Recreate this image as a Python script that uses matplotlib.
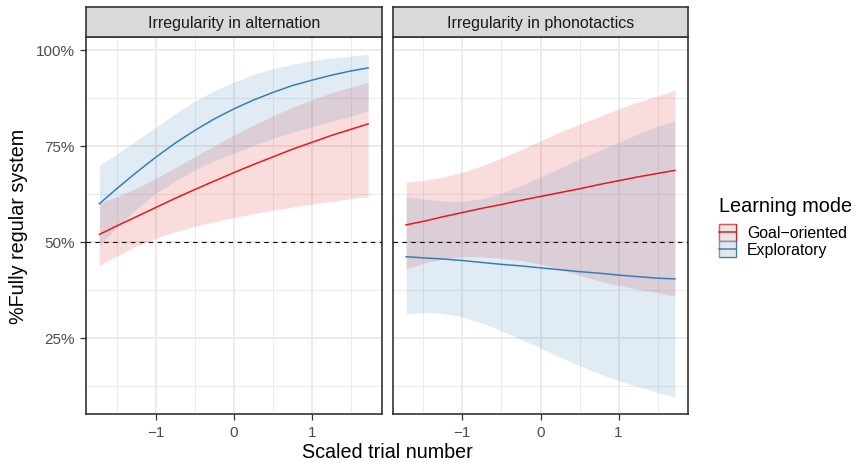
import numpy as np
import matplotlib.pyplot as plt
from matplotlib.patches import Rectangle
from matplotlib.ticker import FixedLocator, FuncFormatter

plt.rcParams['font.family'] = ['Liberation Sans', 'DejaVu Sans']

# values
trial = [-1.72, -1.5, -1.25, -1.0, -0.75, -0.5, -0.25, 0.0, 0.25, 0.5, 0.75, 1.0, 1.25, 1.5, 1.72]

# Irregularity in alternation
alt_goal = [0.519, 0.541, 0.565, 0.589, 0.613, 0.636, 0.658, 0.680, 0.701, 0.721, 0.741, 0.759, 0.777, 0.793, 0.807]
alt_goal_hi = [0.602, 0.617, 0.639, 0.665, 0.693, 0.722, 0.750, 0.778, 0.804, 0.828, 0.850, 0.870, 0.888, 0.903, 0.915]
alt_goal_lo = [0.438, 0.462, 0.488, 0.509, 0.526, 0.540, 0.552, 0.563, 0.573, 0.582, 0.590, 0.598, 0.605, 0.612, 0.618]
alt_expl = [0.599, 0.638, 0.680, 0.720, 0.757, 0.790, 0.820, 0.846, 0.869, 0.889, 0.907, 0.921, 0.934, 0.945, 0.953]
alt_expl_hi = [0.700, 0.728, 0.763, 0.798, 0.834, 0.866, 0.894, 0.916, 0.936, 0.951, 0.963, 0.972, 0.979, 0.984, 0.988]
alt_expl_lo = [0.489, 0.537, 0.585, 0.626, 0.659, 0.687, 0.711, 0.730, 0.751, 0.769, 0.785, 0.800, 0.814, 0.827, 0.842]

# Irregularity in phonotactics
pho_goal = [0.544, 0.553, 0.565, 0.576, 0.587, 0.597, 0.608, 0.618, 0.628, 0.638, 0.649, 0.659, 0.669, 0.678, 0.686]
pho_goal_hi = [0.655, 0.660, 0.668, 0.681, 0.698, 0.718, 0.740, 0.763, 0.786, 0.806, 0.826, 0.846, 0.864, 0.880, 0.895]
pho_goal_lo = [0.429, 0.444, 0.455, 0.461, 0.461, 0.457, 0.451, 0.442, 0.428, 0.412, 0.398, 0.386, 0.376, 0.367, 0.358]
pho_expl = [0.461, 0.458, 0.455, 0.451, 0.446, 0.441, 0.437, 0.432, 0.427, 0.422, 0.418, 0.413, 0.409, 0.405, 0.403]
pho_expl_hi = [0.618, 0.611, 0.606, 0.605, 0.612, 0.626, 0.646, 0.669, 0.692, 0.715, 0.738, 0.759, 0.781, 0.801, 0.815]
pho_expl_lo = [0.312, 0.316, 0.313, 0.304, 0.288, 0.268, 0.246, 0.223, 0.199, 0.177, 0.156, 0.138, 0.122, 0.107, 0.095]

panels = [
    ('Irregularity in alternation', alt_goal, alt_goal_lo, alt_goal_hi, alt_expl, alt_expl_lo, alt_expl_hi),
    ('Irregularity in phonotactics', pho_goal, pho_goal_lo, pho_goal_hi, pho_expl, pho_expl_lo, pho_expl_hi),
]
modes = ['Goal\u2212oriented', 'Exploratory']
red = '#E41A1C'
blue = '#377EB8'

W, H = 856, 464
fig = plt.figure(figsize=(W / 100, H / 100), dpi=100)

def box(x0, y0, x1, y1):
    # pixel box (top-left origin) -> figure fraction
    return [x0 / W, 1 - y1 / H, (x1 - x0) / W, (y1 - y0) / H]

lefts = [86, 392.7]
pw = 295.6
for i, (title, g, glo, ghi, e, elo, ehi) in enumerate(panels):
    x0 = lefts[i]
    ax = fig.add_axes(box(x0, 38.3, x0 + pw, 415.3))
    ax.fill_between(trial, glo, ghi, color=red, alpha=0.15, lw=0, zorder=2)
    ax.fill_between(trial, elo, ehi, color=blue, alpha=0.15, lw=0, zorder=2)
    ax.plot(trial, g, color=red, lw=1.1, zorder=3)
    ax.plot(trial, e, color=blue, lw=1.1, zorder=3)
    ax.axhline(0.5, color='black', lw=0.8, ls=(0, (4, 4)), zorder=4)

    ax.set_xlim(-1.892, 1.892)
    ax.set_ylim(0.0503, 1.0327)
    ax.xaxis.set_major_locator(FixedLocator([-1, 0, 1]))
    ax.xaxis.set_minor_locator(FixedLocator([-1.5, -0.5, 0.5, 1.5]))
    ax.yaxis.set_major_locator(FixedLocator([0.25, 0.5, 0.75, 1.0]))
    ax.yaxis.set_minor_locator(FixedLocator([0.125, 0.375, 0.625, 0.875]))
    ax.xaxis.set_major_formatter(FuncFormatter(lambda v, p: ('%d' % v).replace('-', '\u2212')))
    ax.yaxis.set_major_formatter(FuncFormatter(lambda v, p: '%d%%' % round(v * 100)))
    ax.grid(which='major', color='#EBEBEB', lw=1.4, zorder=0)
    ax.grid(which='minor', color='#EBEBEB', lw=0.7, zorder=0)
    ax.set_axisbelow(True)
    for s in ax.spines.values():
        s.set_color('#333333')
        s.set_linewidth(1.2)
    ax.tick_params(which='major', length=4.5, width=0.9, color='#333333',
                   labelsize=11, labelcolor='#4D4D4D', pad=3.5)
    ax.tick_params(which='minor', length=0)
    if i == 1:
        ax.tick_params(axis='y', which='major', length=0, labelleft=False)

    st = fig.add_axes(box(x0, 8.2, x0 + pw, 38.3))
    st.set_facecolor('#D9D9D9')
    st.set_xticks([])
    st.set_yticks([])
    for s in st.spines.values():
        s.set_color('#333333')
        s.set_linewidth(1.2)
    st.text(0.5, 0.5, title, ha='center', va='center', fontsize=11.5,
            color='#1A1A1A', transform=st.transAxes)

fig.text(387 / W, 1 - 453 / H, 'Scaled trial number', ha='center', va='center', fontsize=14.2)
fig.text(19 / W, 1 - 226.5 / H, '%Fully regular system', ha='center', va='center',
         rotation=90, fontsize=14.2)

# legend drawn in pixel space
lg = fig.add_axes([0, 0, 1, 1], zorder=-1)
lg.set_xlim(0, W)
lg.set_ylim(H, 0)
lg.axis('off')
lg.text(719, 211.7, 'Learning mode', fontsize=14.3, va='baseline', ha='left')
for k, (lab, col) in enumerate(zip(modes, [red, blue])):
    y0 = 225 + k * 16.5
    lg.add_patch(Rectangle((719.5, y0), 16.5, 16.5, facecolor='#DEDEDE',
                           edgecolor=col, alpha=1, lw=1.0))
    lg.add_patch(Rectangle((719.5, y0), 16.5, 16.5, facecolor='white',
                           edgecolor='none', alpha=0.25))
    lg.plot([719.5, 736], [y0 + 8.25, y0 + 8.25], color=col, lw=1.1)
    lg.text(747, y0 + 13.3, lab, fontsize=11.4, va='baseline', ha='left')

fig.savefig('out.png', dpi=100)
